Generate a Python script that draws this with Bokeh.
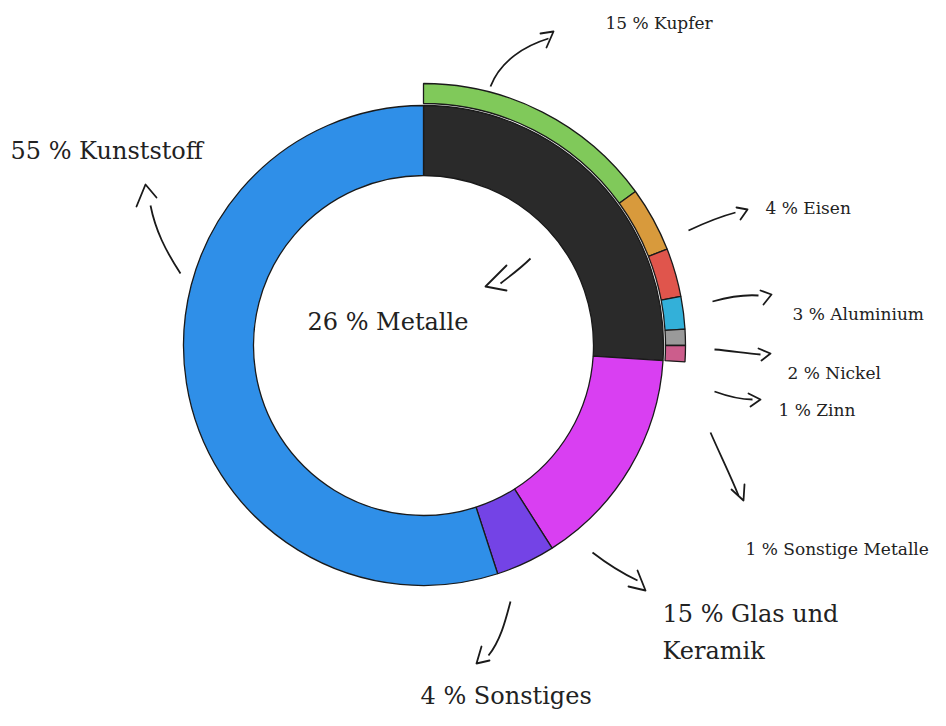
import math
from bokeh.plotting import figure
from bokeh.models import Range1d
from bokeh.core.properties import value
from bokeh.embed import file_html
from bokeh.resources import INLINE

# ---- data ----
main_categories = ["Metalle", "Glas und Keramik", "Sonstiges", "Kunststoff"]
main_values = [26, 15, 4, 55]
main_colors = ["#2a2a2a", "#d93ff2", "#7443e6", "#2f8fe8"]

metal_categories = ["Kupfer", "Eisen", "Aluminium", "Nickel", "Zinn", "Sonstige Metalle"]
metal_values = [15, 4, 3, 2, 1, 1]
metal_colors = ["#80c95a", "#d89a3c", "#e0554c", "#33b0d9", "#9a9a9a", "#cc5d8c"]

main_labels = ["26 % Metalle", "15 % Glas und\nKeramik", "4 % Sonstiges", "55 % Kunststoff"]
metal_labels = ["15 % Kupfer", "4 % Eisen", "3 % Aluminium", "2 % Nickel", "1 % Zinn", "1 % Sonstige Metalle"]

W, H = 930, 710


def X(px):
    return px


def Y(py):
    return H - py


p = figure(width=W, height=H, output_backend="svg", toolbar_location=None,
           x_range=Range1d(0, W), y_range=Range1d(0, H), min_border=0)
p.axis.visible = False
p.grid.visible = False
p.outline_line_color = None
p.background_fill_color = "white"

cx, cy = X(423), Y(345)
R_IN, R_OUT = 170, 240
R2_IN, R2_OUT = 242, 262


def angles(vals, start_pct=0):
    starts, ends = [], []
    cum = start_pct
    for v in vals:
        starts.append(math.pi / 2 - cum / 100 * 2 * math.pi)
        cum += v
        ends.append(math.pi / 2 - cum / 100 * 2 * math.pi)
    return starts, ends


s1, e1 = angles(main_values)
p.annular_wedge(x=[cx] * len(main_values), y=[cy] * len(main_values),
                inner_radius=R_IN, outer_radius=R_OUT,
                start_angle=s1, end_angle=e1, direction="clock",
                fill_color=main_colors, line_color="#1a1a1a", line_width=1.3)

s2, e2 = angles(metal_values)
p.annular_wedge(x=[cx] * len(metal_values), y=[cy] * len(metal_values),
                inner_radius=R2_IN, outer_radius=R2_OUT,
                start_angle=s2, end_angle=e2, direction="clock",
                fill_color=metal_colors, line_color="#1a1a1a", line_width=1.3)

# ---- labels (layout positions, page px) ----
font = value("DejaVu Serif")
big_pos = [(307, 321), (662, 632), (420, 695), (10, 150)]
p.text(x=[X(a) for a, b in big_pos], y=[Y(b) for a, b in big_pos], text=main_labels,
       text_font=font, text_font_size="24px", text_color="#222222",
       text_baseline="middle", text_align="left", text_line_height=1.35)

small_pos = [(605, 22), (765, 207), (792, 313), (787, 372), (778, 409), (745, 548)]
p.text(x=[X(a) for a, b in small_pos], y=[Y(b) for a, b in small_pos], text=metal_labels,
       text_font=font, text_font_size="17px", text_color="#222222",
       text_baseline="middle", text_align="left")

# ---- hand-drawn arrows (decoration, page px) ----
curves = [
    # (x0,y0, cx0,cy0, cx1,cy1, x1,y1)
    (490, 86, 500, 60, 525, 45, 548, 38),
    (688, 230, 705, 222, 720, 216, 735, 212),
    (712, 301, 730, 296, 745, 294, 758, 295),
    (714, 349, 730, 350, 745, 353, 760, 354),
    (714, 391, 725, 395, 738, 399, 752, 399),
    (710, 432, 720, 455, 730, 475, 738, 495),
    (592, 552, 605, 562, 620, 572, 637, 580),
    (510, 601, 505, 620, 500, 640, 488, 655),
    (180, 273, 165, 250, 155, 230, 150, 205),
    (530, 258, 520, 268, 510, 275, 500, 283),
]
p.bezier(x0=[X(c[0]) for c in curves], y0=[Y(c[1]) for c in curves],
         cx0=[X(c[2]) for c in curves], cy0=[Y(c[3]) for c in curves],
         cx1=[X(c[4]) for c in curves], cy1=[Y(c[5]) for c in curves],
         x1=[X(c[6]) for c in curves], y1=[Y(c[7]) for c in curves],
         line_color="#1a1a1a", line_width=1.8)

heads = [
    [(540, 33), (553, 31), (546, 47)],
    [(736, 207), (747, 209), (740, 219)],
    [(760, 290), (771, 294), (763, 304)],
    [(758, 348), (770, 353), (761, 360)],
    [(748, 393), (760, 399), (750, 406)],
    [(731, 489), (743, 500), (744, 484)],
    [(628, 586), (645, 590), (637, 570)],
    [(481, 646), (476, 663), (489, 660)],
    [(136, 206), (145, 184), (156, 197)],
    [(506, 265), (485, 286), (506, 290)],
]
p.multi_line(xs=[[X(a) for a, b in h] for h in heads], ys=[[Y(b) for a, b in h] for h in heads],
             line_color="#1a1a1a", line_width=1.8, line_join="round", line_cap="round")

open("out.html", "w").write(file_html(p, INLINE))
